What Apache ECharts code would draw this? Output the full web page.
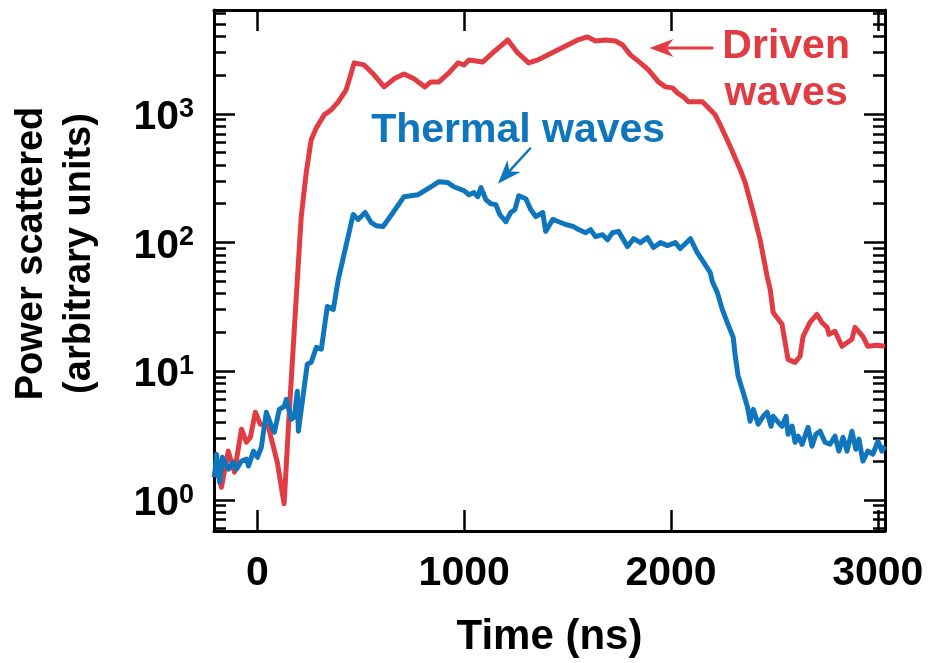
<!DOCTYPE html>
<html><head><meta charset="utf-8">
<script src="https://cdn.jsdelivr.net/npm/echarts@6/dist/echarts.min.js"></script>
<style>html,body{margin:0;padding:0;background:#fff}#c{width:931px;height:663px}</style>
</head><body><div id="c"></div>
<script>
const drivenTime = [-210,-198,-174,-141,-111,-77,-53,-34,-10,14,52,96,129,154,196,212,236,260,285,323,357,391,429,468,516,564,613,661,709,757,810,839,878,926,970,999,1023,1090,1143,1211,1259,1312,1356,1404,1452,1500,1549,1597,1635,1684,1732,1766,1804,1852,1891,1939,1973,2007,2031,2060,2084,2118,2152,2176,2214,2238,2287,2335,2359,2398,2431,2465,2480,2494,2537,2566,2600,2624,2639,2672,2706,2730,2755,2764,2793,2827,2875,2890,2928,2952,2996,3035];
const drivenPower = [1.50,1.83,1.25,2.39,1.64,3.54,2.80,3.06,4.79,3.87,3.73,1.96,0.93,4.79,61.6,159,349,629,778,982,1074,1239,1536,2488,2400,2009,1620,1870,2043,1870,1620,1771,1771,2080,2488,2400,2624,2531,3027,3750,2973,2488,2624,2870,3138,3430,3750,3958,3683,3750,3683,3430,2870,2488,2194,1771,1620,1591,1455,1355,1239,1239,1239,1133,982,822,555,368,292,171,105,54.4,43.1,28.6,23.1,12.35,11.7,13.0,18.6,23.9,27.6,23.9,21.9,19.3,20.4,15.6,17.7,21.9,18.6,15.6,15.9,15.6];
const thermalTime = [-207,-198,-183,-169,-140,-116,-101,-77,-53,-43,-19,0,19,43,68,82,106,130,140,164,178,193,198,212,241,260,285,309,338,367,391,463,487,521,550,574,608,656,709,777,839,878,921,950,999,1023,1047,1066,1081,1105,1129,1153,1172,1201,1225,1245,1264,1298,1322,1346,1380,1394,1428,1457,1491,1529,1553,1587,1611,1635,1669,1693,1717,1746,1790,1819,1852,1886,1915,1949,1983,2021,2045,2094,2127,2156,2190,2200,2224,2248,2272,2301,2311,2325,2349,2369,2383,2398,2422,2446,2465,2484,2494,2518,2537,2557,2566,2586,2600,2615,2634,2648,2663,2682,2701,2721,2745,2769,2793,2812,2832,2851,2875,2894,2909,2928,2952,2976,3001,3020,3035];
const thermalPower = [1.50,2.26,1.37,2.14,1.73,1.96,1.73,2.00,2.07,1.83,2.39,2.14,2.56,4.79,3.73,3.35,5.05,5.33,6.04,4.23,4.38,6.97,3.41,5.05,11.3,11.7,15.3,14.8,31.8,30.2,51.5,165,151,171,143,135,133,171,227,235,271,297,292,271,253,235,244,227,267,215,200,197,165,145,171,180,231,219,180,159,171,122,151,145,138,133,126,119,126,111,115,105,119,122,92.9,107,99.8,109,91.3,99.8,94.6,99.8,89.7,107,83.5,71.1,58.4,49.7,40.8,30.2,23.9,18.3,13.0,9.11,6.85,5.33,4.08,5.05,3.87,4.46,4.79,3.73,4.46,4.01,3.73,4.46,3.23,3.73,2.80,3.12,2.70,3.12,3.66,2.61,3.23,3.41,2.80,2.70,3.12,2.39,3.06,2.39,3.41,2.47,2.96,2.00,2.39,2.26,2.85,2.39,2.61];

const xTicks = [0, 1000, 2000, 3000];
const yMajorTicks = [1, 10, 100, 1000];
const yMinorTicks = [0.6,0.7,0.8,0.9,2,3,4,5,6,7,8,9,20,30,40,50,60,70,80,90,200,300,400,500,600,700,800,900,2000,3000,4000,5000,6000];
const xRange = [-210, 3035];
const yRange = [0.572, 6412];

const RED = '#E13C43';
const BLUE = '#0F76BD';
const FONT = '"Liberation Sans", Arial, Helvetica, sans-serif';

const chart = echarts.init(document.getElementById('c'), null, {renderer: 'canvas'});

function yAxisDef(pos, ticks, len, withLabel, withLine, extra) {
  return Object.assign({
    type: 'log', logBase: 10, position: pos, min: yRange[0], max: yRange[1],
    axisLine: {show: withLine, onZero: false, lineStyle: {color: '#000', width: 3}},
    axisTick: {show: true, inside: true, length: len, customValues: ticks, lineStyle: {color: '#000', width: 2.5}},
    axisLabel: {show: false},
    minorTick: {show: false}, splitLine: {show: false}
  }, extra || {});
}

const option = {
  animation: false,
  backgroundColor: '#fff',
  grid: {left: 213, right: 46, top: 10, bottom: 131, containLabel: false},
  xAxis: [
    {
      type: 'value', position: 'bottom', min: xRange[0], max: xRange[1],
      name: 'Time (ns)', nameLocation: 'middle', nameGap: 85,
      nameTextStyle: {fontFamily: FONT, fontWeight: 'bold', fontSize: 42, color: '#000'},
      axisLine: {show: true, onZero: false, lineStyle: {color: '#000', width: 3}},
      axisTick: {show: true, inside: true, length: 21, customValues: xTicks, lineStyle: {color: '#000', width: 2.5}},
      axisLabel: {show: true, customValues: xTicks, margin: 22, fontFamily: FONT, fontWeight: 'bold', fontSize: 41, color: '#000',
        formatter: function (v) { return String(v); }},
      splitLine: {show: false}
    },
    {
      type: 'value', position: 'top', min: xRange[0], max: xRange[1],
      axisLine: {show: true, onZero: false, lineStyle: {color: '#000', width: 3}},
      axisTick: {show: true, inside: true, length: 21, customValues: xTicks, lineStyle: {color: '#000', width: 2.5}},
      axisLabel: {show: false}, splitLine: {show: false}
    }
  ],
  yAxis: [
    yAxisDef('left', yMajorTicks, 21, true, true, {
      name: 'Power scattered\n(arbitrary units)', nameLocation: 'middle', nameGap: 110, nameRotate: 90,
      nameTextStyle: {fontFamily: FONT, fontWeight: 'bold', fontSize: 38, lineHeight: 48, color: '#000', padding: [0, 0, 0, 34]},
      axisLabel: {
        show: true, customValues: yMajorTicks, margin: 20, padding: [8, 0, 0, 0],
        formatter: function (v) { return '{b|10}{s|' + Math.round(Math.log10(v)) + '}'; },
        rich: {
          b: {fontFamily: FONT, fontWeight: 'bold', fontSize: 41, lineHeight: 44, color: '#000'},
          s: {fontFamily: FONT, fontWeight: 'bold', fontSize: 27, lineHeight: 22, verticalAlign: 'top', color: '#000'}
        }
      }
    }),
    yAxisDef('left', yMinorTicks, 12, false, false),
    yAxisDef('right', yMajorTicks, 21, false, true),
    yAxisDef('right', yMinorTicks, 12, false, false)
  ],
  series: [
    {
      name: 'Driven waves', type: 'line', xAxisIndex: 0, yAxisIndex: 0,
      data: drivenTime.map((t, i) => [t, drivenPower[i]]),
      showSymbol: false, symbol: 'none', lineStyle: {color: RED, width: 5, join: 'round'}, itemStyle: {color: RED}, z: 2
    },
    {
      name: 'Thermal waves', type: 'line', xAxisIndex: 0, yAxisIndex: 0,
      data: thermalTime.map((t, i) => [t, thermalPower[i]]),
      showSymbol: false, symbol: 'none', lineStyle: {color: BLUE, width: 5, join: 'round'}, itemStyle: {color: BLUE}, z: 3
    }
  ]
};
chart.setOption(option);

// annotations anchored in data coordinates
const drivenLabel = {text: 'Driven\nwaves', at: [2557, 2175]};
const drivenArrow = {from: [2205, 3251], to: [1896, 3251]};
const thermalLabel = {text: 'Thermal waves', at: [1261, 738]};
const thermalArrow = {from: [1322, 545], to: [1163, 286]};

function px(p) { return chart.convertToPixel({xAxisIndex: 0, yAxisIndex: 0}, p); }
function arrow(a, color, lw) {
  const s = px(a.from), t = px(a.to);
  const dx = t[0] - s[0], dy = t[1] - s[1], d = Math.hypot(dx, dy);
  const ux = dx / d, uy = dy / d, nx = -uy, ny = ux;
  const L = 24, W = 9, N = 7;
  const bx = t[0] - ux * L, by = t[1] - uy * L;
  const mx = t[0] - ux * (L - N), my = t[1] - uy * (L - N);
  return [
    {type: 'line', shape: {x1: s[0], y1: s[1], x2: mx, y2: my}, style: {stroke: color, lineWidth: lw}, z: 10},
    {type: 'polygon', shape: {points: [t, [bx + nx * W, by + ny * W], [mx, my], [bx - nx * W, by - ny * W]]}, style: {fill: color}, z: 10}
  ];
}
function label(l, color) {
  const p = px(l.at);
  return {type: 'text', x: p[0], y: p[1], z: 10, style: {text: l.text, fill: color, font: 'bold 41px ' + FONT, align: 'center', verticalAlign: 'middle', lineHeight: 47}};
}
chart.setOption({graphic: [].concat(
  arrow(drivenArrow, RED, 3), [label(drivenLabel, RED)],
  arrow(thermalArrow, BLUE, 2.5), [label(thermalLabel, BLUE)]
)});
</script></body></html>
